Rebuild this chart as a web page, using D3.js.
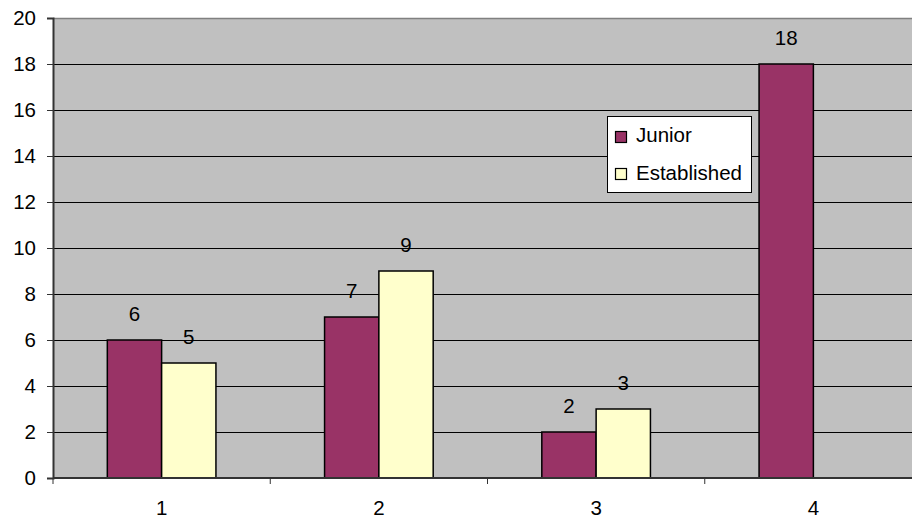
<!DOCTYPE html>
<html>
<head>
<meta charset="utf-8">
<script src="https://cdn.jsdelivr.net/npm/d3@7"></script>
<style>
  body { margin: 0; background: #fff; }
  svg { display: block; font-family: "Liberation Sans", Arial, sans-serif; }
</style>
</head>
<body>
<div id="chart"></div>
<script>
// chart data
var categories = ["1", "2", "3", "4"];
var seriesNames = ["Junior", "Established"];
var junior = [6, 7, 2, 18];
var established = [5, 9, 3, null];
var yTicks = [0, 2, 4, 6, 8, 10, 12, 14, 16, 18, 20];

var colors = ["#993366", "#FFFFCC"];
var fs = 20.5;

var W = 912, H = 521;
// plot runs a little past the right edge, like the original
var margin = {left: 53, top: 18, right: -10, bottom: 43};
var pw = W - margin.left - margin.right;
var ph = H - margin.top - margin.bottom;

var svg = d3.select("#chart").append("svg")
    .attr("width", W).attr("height", H);

var g = svg.append("g").attr("transform", "translate(" + margin.left + "," + margin.top + ")");

var x = d3.scaleBand().domain(categories).range([0, pw]).padding(0);
var y = d3.scaleLinear().domain([0, 20]).range([ph, 0]);

// plot background
g.append("rect").attr("x", 0).attr("y", 0).attr("width", pw).attr("height", ph)
    .attr("fill", "#C0C0C0");
g.append("line").attr("x1", 0).attr("x2", pw).attr("y1", 0.5).attr("y2", 0.5)
    .attr("stroke", "#808080").attr("stroke-width", 1.5);

// gridlines
g.selectAll(".grid").data(yTicks.filter(function(d){ return d > 0 && d < 20; }))
  .enter().append("line")
    .attr("x1", 0).attr("x2", pw)
    .attr("y1", function(d){ return Math.round(y(d)) + 0.5; })
    .attr("y2", function(d){ return Math.round(y(d)) + 0.5; })
    .attr("stroke", "#000").attr("stroke-width", 1);

// bars
var bw = x.bandwidth() / 4;
var series = [junior, established];
series.forEach(function(vals, s) {
  var rows = categories.map(function(c, i){ return {c: c, v: vals[i]}; })
      .filter(function(d){ return d.v != null; });
  g.selectAll(".bar" + s).data(rows).enter().append("rect")
      .attr("x", function(d){ return x(d.c) + bw + s * bw; })
      .attr("y", function(d){ return y(d.v); })
      .attr("width", bw)
      .attr("height", function(d){ return ph - y(d.v); })
      .attr("fill", colors[s])
      .attr("stroke", "#000").attr("stroke-width", 1.5);
  g.selectAll(".lab" + s).data(rows).enter().append("text")
      .attr("x", function(d){ return x(d.c) + bw + s * bw + bw / 2; })
      .attr("y", function(d){ return y(d.v) - 19.5; })
      .attr("text-anchor", "middle")
      .attr("font-size", fs)
      .text(function(d){ return d.v; });
});

// y axis
var yAxis = d3.axisLeft(y).tickValues(yTicks).tickSize(6).tickPadding(11);
var ya = g.append("g").call(yAxis);
ya.select(".domain").attr("stroke", "#333").attr("stroke-width", 2);
ya.selectAll(".tick line").attr("stroke", "#333");
ya.selectAll("text").attr("font-size", fs).attr("fill", "#000")
    .attr("font-family", "Liberation Sans, Arial, sans-serif");

// x axis: ticks at category boundaries
var xa = g.append("g").attr("transform", "translate(0," + ph + ")");
xa.append("line").attr("x1", 0).attr("x2", pw).attr("y1", 0).attr("y2", 0)
    .attr("stroke", "#333").attr("stroke-width", 2);
xa.selectAll(".xt").data(categories).enter().append("line")
    .attr("x1", function(d){ return x(d); }).attr("x2", function(d){ return x(d); })
    .attr("y1", 0).attr("y2", 6).attr("stroke", "#333");
xa.selectAll(".xl").data(categories).enter().append("text")
    .attr("x", function(d){ return x(d) + x.bandwidth() / 2; })
    .attr("y", 37)
    .attr("text-anchor", "middle").attr("font-size", fs)
    .text(function(d){ return d; });

// legend
var lg = svg.append("g").attr("transform", "translate(607,116)");
lg.append("rect").attr("x", 0.5).attr("y", 0.5).attr("width", 144).attr("height", 76)
    .attr("fill", "#fff").attr("stroke", "#000").attr("stroke-width", 1);
seriesNames.forEach(function(n, i) {
  lg.append("rect").attr("x", 8.5).attr("y", 15.5 + i * 37).attr("width", 11).attr("height", 11)
      .attr("fill", colors[i]).attr("stroke", "#000").attr("stroke-width", 1.2);
  lg.append("text").attr("x", 29).attr("y", 26 + i * 38)
      .attr("font-size", fs).text(n);
});
</script>
</body>
</html>
